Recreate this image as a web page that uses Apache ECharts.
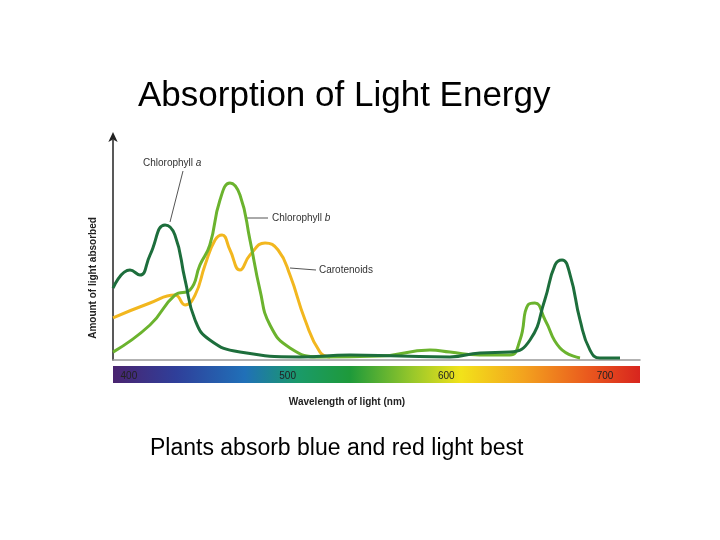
<!DOCTYPE html>
<html>
<head>
<meta charset="utf-8">
<script src="https://cdn.jsdelivr.net/npm/echarts@6/dist/echarts.min.js"></script>
</head>
<body style="margin:0;background:#fff;">
<div id="main" style="width:720px;height:540px"></div>
<script>
// wavelength (nm) / relative absorption
var chlA = [[390,32.7],[400.7,40.9],[407,38.6],[413.3,47.7],[422.8,61.4],[429,56.8],[435.4,36.4],[441.7,18.2],[451,9.1],[470,3.6],[507.8,1.4],[539.3,2.3],[570.8,1.8],[602.3,1.4],[621.2,3.2],[640,3.6],[652.7,9.1],[662,27.3],[668.5,43.2],[672.9,45.5],[678,38.6],[684.2,18.2],[690.5,4.5],[696.8,0.9],[709.4,0.9]];
var chlB = [[390,3.6],[413.3,15.9],[429,29.5],[438.5,31.8],[444.8,43.2],[451,52.3],[457.4,72.7],[463.7,80.5],[470,75],[476.3,54.5],[482.6,31.8],[488.9,15.9],[501.5,5.5],[520.4,1.4],[558.2,1.8],[589.7,4.5],[602.3,3.6],[621.2,2.3],[640,2.3],[646.4,9.1],[651.4,25],[655.8,25.9],[662.2,18.2],[671.6,5.5],[684.2,0.9]];
var carot = [[390,19.1],[413.3,25.9],[429,29.5],[435.4,25],[441.7,29.5],[448,43.2],[454.3,54.5],[458.7,56.8],[463.7,50],[470,40.9],[476.3,47.7],[485.8,53.2],[494,50],[501.5,38.6],[511,18.2],[520.4,3.6],[526.7,1.4]];
var tickLabels = [400, 500, 600, 700];

var myChart = echarts.init(document.getElementById('main'));
var font = 'Liberation Sans, Arial, sans-serif';

function line(name, data, color) {
  return { name: name, type: 'line', data: data, smooth: 0.5, symbol: 'none',
    lineStyle: { color: color, width: 3 } };
}

var option = {
  backgroundColor: '#fff',
  animation: false,
  title: [
    { text: 'Absorption of Light Energy', left: 133, top: 74,
      textStyle: { fontFamily: font, fontSize: 35, fontWeight: 'normal', color: '#000' } },
    { text: 'Plants absorb blue and red light best', left: 145, top: 432,
      textStyle: { fontFamily: font, fontSize: 23, fontWeight: 'normal', color: '#000' } }
  ],
  grid: { left: 113, right: 80, top: 140, bottom: 180 },
  xAxis: {
    type: 'value', min: 390, max: 722,
    axisLine: { lineStyle: { color: '#999', width: 1.5 } },
    axisTick: { show: false }, axisLabel: { show: false }, splitLine: { show: false }
  },
  yAxis: {
    type: 'value', min: 0, max: 100,
    axisLine: { show: true, symbol: ['none', 'arrow'], symbolSize: [7, 10], symbolOffset: [0, 8],
      lineStyle: { color: '#222', width: 1.5 } },
    axisTick: { show: false }, axisLabel: { show: false }, splitLine: { show: false }
  },
  series: [
    line('Carotenoids', carot, '#f2b71f'),
    line('Chlorophyll b', chlB, '#6bb32e'),
    line('Chlorophyll a', chlA, '#1d6e3c')
  ]
};
myChart.setOption(option);

var lbl = { fontSize: 10, fontFamily: font, fill: '#333' };
var g = [
  { type: 'rect', z: 0, shape: { x: 113, y: 366, width: 527, height: 17 },
    style: { fill: new echarts.graphic.LinearGradient(0, 0, 1, 0, [
      { offset: 0, color: '#4a2470' }, { offset: 0.12, color: '#2f3f9a' },
      { offset: 0.25, color: '#2070b8' }, { offset: 0.35, color: '#1a9a6a' },
      { offset: 0.45, color: '#1e9a3a' }, { offset: 0.57, color: '#9ac82a' },
      { offset: 0.66, color: '#f2e21a' }, { offset: 0.78, color: '#f3a21e' },
      { offset: 0.9, color: '#ea5a1e' }, { offset: 1, color: '#d8251e' }]) } },
  { type: 'text', style: { x: 143, y: 158, text: 'Chlorophyll {i|a}', fontSize: 10, fontFamily: font, fill: '#333',
    rich: { i: { fontStyle: 'italic', fontSize: 10, fontFamily: font, fill: '#333' } } } },
  { type: 'line', shape: { x1: 183, y1: 171, x2: 170, y2: 222 }, style: { stroke: '#555', lineWidth: 1 } },
  { type: 'text', style: { x: 272, y: 213, text: 'Chlorophyll {i|b}', fontSize: 10, fontFamily: font, fill: '#333',
    rich: { i: { fontStyle: 'italic', fontSize: 10, fontFamily: font, fill: '#333' } } } },
  { type: 'line', shape: { x1: 245, y1: 218, x2: 268, y2: 218 }, style: { stroke: '#555', lineWidth: 1 } },
  { type: 'text', style: Object.assign({ x: 319, y: 265, text: 'Carotenoids' }, lbl) },
  { type: 'line', shape: { x1: 290, y1: 268, x2: 316, y2: 270 }, style: { stroke: '#555', lineWidth: 1 } },
  { type: 'text', style: { x: 347, y: 402, text: 'Wavelength of light (nm)', align: 'center', verticalAlign: 'middle',
    fontSize: 10, fontWeight: 'bold', fontFamily: font, fill: '#222' } },
  { type: 'text', x: 93, y: 278, rotation: Math.PI / 2,
    style: { x: 0, y: 0, text: 'Amount of light absorbed', align: 'center', verticalAlign: 'middle',
      fontSize: 10, fontWeight: 'bold', fontFamily: font, fill: '#222' } }
];
tickLabels.forEach(function (v) {
  var p = myChart.convertToPixel({ gridIndex: 0 }, [v, 0]);
  g.push({ type: 'text', style: { x: p[0], y: 376, text: String(v), align: 'center',
    verticalAlign: 'middle', fontSize: 10, fontFamily: font, fill: '#222' } });
});
myChart.setOption({ graphic: g });
</script>
</body>
</html>
